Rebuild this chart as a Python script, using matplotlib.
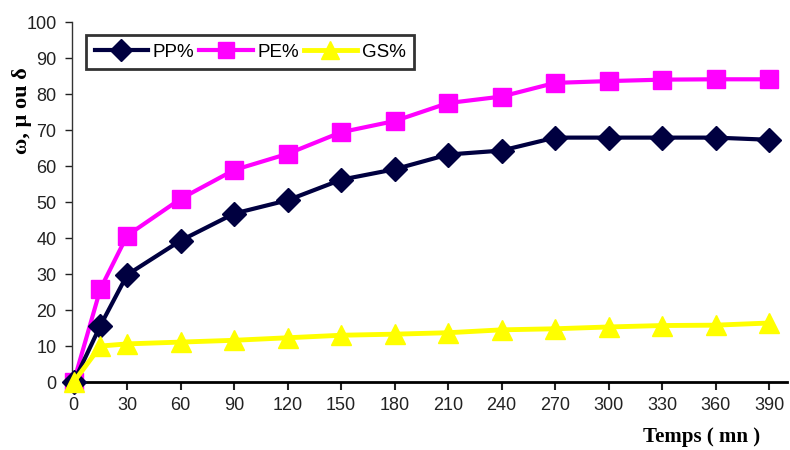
import matplotlib
matplotlib.use('Agg')
import matplotlib.pyplot as plt

# temps (mn)
temps = [0, 15, 30, 60, 90, 120, 150, 180, 210, 240, 270, 300, 330, 360, 390]
pp = [0, 15.7, 29.8, 39.3, 46.8, 50.5, 56.2, 59.1, 63.2, 64.3, 67.9, 67.9, 67.9, 67.9, 67.3]
pe = [0, 25.9, 40.7, 50.9, 58.9, 63.4, 69.4, 72.5, 77.5, 79.3, 83.1, 83.6, 84.0, 84.1, 84.1]
gs = [0, 10.0, 10.6, 11.1, 11.6, 12.3, 13.0, 13.3, 13.7, 14.5, 14.8, 15.3, 15.7, 15.8, 16.4]
xticks = list(range(0, 391, 30))
yticks = list(range(0, 101, 10))

plt.rcParams['font.family'] = ['Liberation Sans', 'DejaVu Sans']

fig = plt.figure(figsize=(7.9, 4.5), dpi=100)
ax = fig.add_axes([0.091, 0.151, 0.905, 0.80])

ax.plot(temps, pp, color='#000040', linewidth=3, marker='D', markersize=12,
        label='PP%', clip_on=False, zorder=4)
ax.plot(temps, pe, color='#ff00ff', linewidth=3, marker='s', markersize=13,
        label='PE%', clip_on=False, zorder=3)
ax.plot(temps, gs, color='#ffff00', linewidth=3.5, marker='^', markersize=15,
        label='GS%', clip_on=False, zorder=5)

ax.set_xlim(-1, 400)
ax.set_ylim(0, 100)
ax.set_xticks(xticks)
ax.set_yticks(yticks)
ax.tick_params(axis='both', labelsize=13, colors='#222222', direction='out')
ax.tick_params(axis='x', length=6, width=1.5, pad=5)
ax.tick_params(axis='y', length=5, width=1, pad=6)

for s in ['top', 'right']:
    ax.spines[s].set_visible(False)
ax.spines['bottom'].set_linewidth(2)
ax.spines['left'].set_linewidth(1)
ax.spines['left'].set_color('#333333')

leg = ax.legend(loc='upper left', bbox_to_anchor=(0.02, 0.964), ncol=3, fontsize=13.5,
                frameon=True, fancybox=False, handlelength=2.85, handletextpad=0.25,
                columnspacing=0.25, borderpad=0.45, borderaxespad=0, markerscale=0.9)
leg.get_frame().set_edgecolor('black')
leg.get_frame().set_linewidth(2)

fig.text(0.028, 0.755, 'ω, µ ou δ', rotation=90, ha='center', va='center',
         fontsize=16, fontweight='bold', family=['Liberation Serif', 'DejaVu Serif'])
fig.text(0.962, 0.028, 'Temps ( mn )', ha='right', va='center',
         fontsize=15, fontweight='bold', family=['Liberation Serif', 'DejaVu Serif'])

fig.savefig('out.png', dpi=100)
